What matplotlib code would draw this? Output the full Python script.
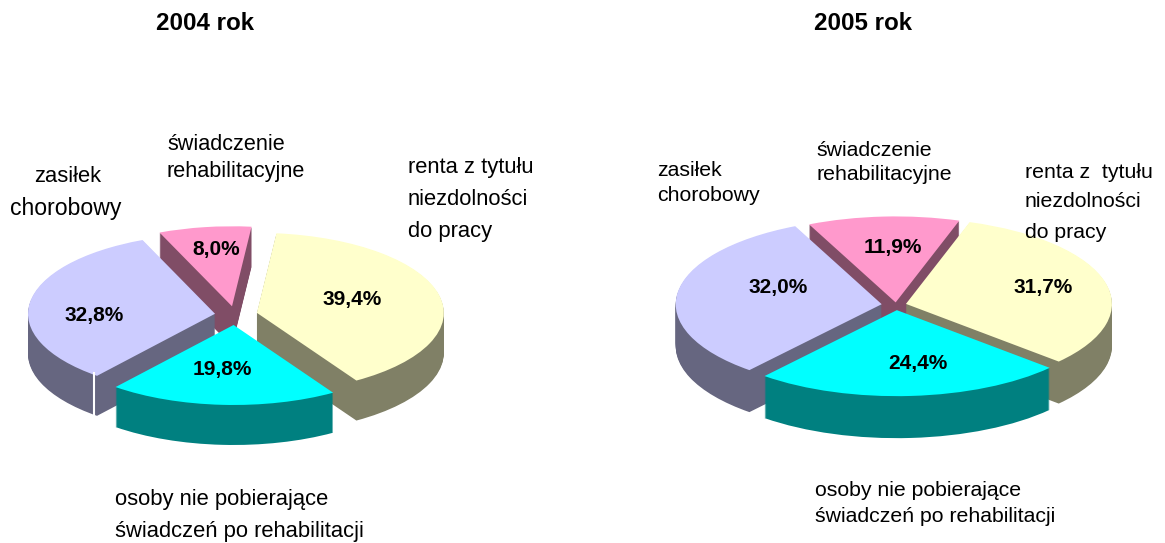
import matplotlib
matplotlib.use("Agg")
import matplotlib.pyplot as plt

W, H = 1165, 543

titles = ["2004 rok", "2005 rok"]
# order: renta, osoby nie pobierajace, zasilek, swiadczenie rehab.
values_2004 = [39.4, 19.8, 32.8, 8.0]
values_2005 = [31.7, 24.4, 32.0, 11.9]

top_colors = ["#FFFFCC", "#00FFFF", "#CCCCFF", "#FF99CC"]
side_colors = ["#808066", "#008080", "#666680", "#804D66"]
slice_order = [3, 4, 2, 1]  # cyan in front, pink at the back

plt.rcParams["font.family"] = ["Liberation Sans", "DejaVu Sans"]


def px_text(fig, x, y, s, **kw):
    fig.text(x / W, 1 - y / H, s, va="center", color="black", **kw)


def fake_3d_pie(fig, values, cx, cy, a, b, depth, start, explode):
    ax = fig.add_axes([(cx - 1.5 * a) / W, 1 - (cy + 2 * b) / H, 3 * a / W, 4 * b / H])
    for d in list(range(depth, 0, -1)) + [0]:
        colors = top_colors if d == 0 else side_colors
        wedges, _ = ax.pie(values, colors=colors, startangle=start, counterclock=False,
                           explode=explode, center=(0, -d / b), radius=1,
                           wedgeprops={"linewidth": 0})
        for w, z in zip(wedges, slice_order):
            w.set_zorder(z + (0.5 if d == 0 else 0))
    ax.set_aspect("auto")
    ax.set_xlim(-1.5, 1.5)
    ax.set_ylim(-2, 2)
    ax.axis("off")
    return ax


def run():
    fig = plt.figure(figsize=(W / 100, H / 100), dpi=100)

    fake_3d_pie(fig, values_2004, 235, 315, 187, 80, 40, 84, [0.12, 0.125, 0.108, 0.11])
    fake_3d_pie(fig, values_2005, 896, 305, 206, 86, 42, 72, [0.05, 0.06, 0.07, 0.03])

    # white seam on the lavender side of the 2004 pie
    fig.add_artist(plt.Line2D([94 / W, 94 / W], [1 - 373 / H, 1 - 415 / H], color="white", lw=1.5))

    px_text(fig, 156, 23, titles[0], fontsize=17.4, fontweight="bold")
    px_text(fig, 814, 23, titles[1], fontsize=17.4, fontweight="bold")

    fmt = lambda v: f"{v:.1f}%".replace(".", ",")
    for v, (x, y) in zip(values_2004, [(352, 300), (222, 370), (94, 315), (216, 250)]):
        px_text(fig, x, y, fmt(v), fontsize=15, fontweight="bold", ha="center")
    for v, (x, y) in zip(values_2005, [(1043, 288), (918, 363), (778, 288), (893, 247)]):
        px_text(fig, x, y, fmt(v), fontsize=15, fontweight="bold", ha="center")

    labels = [
        (34, 177, "zasiłek", 15.8), (10, 208, "chorobowy", 16.6),
        (167, 145, "świadczenie", 15.6), (167, 171, "rehabilitacyjne", 15.6),
        (408, 168, "renta z tytułu", 15.8), (408, 199, "niezdolności", 15.8), (408, 231, "do pracy", 15.8),
        (115, 499, "osoby nie pobierające", 15.8), (115, 531, "świadczeń po rehabilitacji", 15.8),
        (657, 171, "zasiłek", 15.3), (657, 195, "chorobowy", 15.3),
        (816, 150, "świadczenie", 15.3), (816, 175, "rehabilitacyjne", 15.3),
        (1025, 173, "renta z  tytułu", 15.3), (1025, 202, "niezdolności", 15.3), (1025, 232, "do pracy", 15.3),
        (815, 490, "osoby nie pobierające", 15.3), (815, 516, "świadczeń po rehabilitacji", 15.3),
    ]
    for x, y, s, size in labels:
        px_text(fig, x, y, s, fontsize=size)

    fig.savefig("out.png", dpi=100)


if __name__ == "__main__":
    run()
